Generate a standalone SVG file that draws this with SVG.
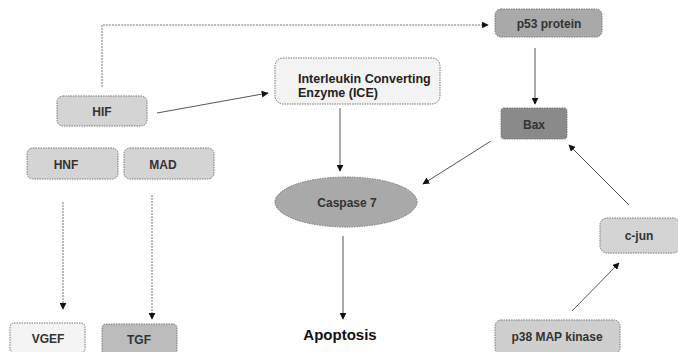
<svg xmlns="http://www.w3.org/2000/svg" width="678" height="352" viewBox="0 0 678 352">
<style>
.n{stroke:#777;stroke-width:1;stroke-dasharray:1.5 1}
.t{font-family:"Liberation Sans",Arial,sans-serif;font-weight:bold;font-size:12px;fill:#333;text-anchor:middle}
.l{text-anchor:start;font-size:12.5px;fill:#222}
.c{stroke:#555;stroke-width:1;fill:none}
.d{stroke:#777;stroke-dasharray:2 1}
</style>
<defs>
<marker id="a" viewBox="0 0 10 10" refX="9" refY="5" markerWidth="7" markerHeight="7" orient="auto" markerUnits="userSpaceOnUse"><path d="M0,0L10,5L0,10z" fill="#111"/></marker>
</defs>
<rect width="678" height="352" fill="#fff"/>
<g id="connectors">
<path class="c d" d="M102,87V25H488" marker-end="url(#a)"/>
<path class="c" d="M157,113L268,93" marker-end="url(#a)"/>
<path class="c" d="M340,108V171" marker-end="url(#a)"/>
<path class="c" d="M535,48V104" marker-end="url(#a)"/>
<path class="c" d="M491,141L423,184" marker-end="url(#a)"/>
<path class="c" d="M629,205L569,145" marker-end="url(#a)"/>
<path class="c" d="M572,311L619,263" marker-end="url(#a)"/>
<path class="c" d="M343,236V319" marker-end="url(#a)"/>
<path class="c d" d="M63,202V309" marker-end="url(#a)"/>
<path class="c d" d="M152,195V319" marker-end="url(#a)"/>
</g>
<g id="HIF"><rect class="n" x="57" y="96" width="90" height="30" rx="6" fill="#d4d4d4"/><text class="t" x="102" y="116">HIF</text></g>
<g id="HNF"><rect class="n" x="27" y="148" width="91" height="31" rx="6" fill="#d4d4d4"/><text class="t" x="66" y="169">HNF</text></g>
<g id="MAD"><rect class="n" x="124" y="148" width="90" height="31" rx="6" fill="#d4d4d4"/><text class="t" x="163" y="169">MAD</text></g>
<g id="ICE"><rect class="n" x="275" y="58" width="165" height="46" rx="8" fill="#f3f3f3"/><text class="t l" x="298" y="83">Interleukin Converting</text><text class="t l" x="298" y="97">Enzyme (ICE)</text></g>
<g id="p53"><rect class="n" x="495" y="9" width="107" height="28" rx="6" fill="#a9a9a9"/><text class="t" x="549" y="28">p53 protein</text></g>
<g id="Bax"><rect class="n" x="501" y="108" width="66" height="31" rx="3" fill="#8a8a8a"/><text class="t" x="534" y="129">Bax</text></g>
<g id="Caspase7"><ellipse class="n" cx="346" cy="202" rx="71" ry="25" fill="#a9a9a9"/><text class="t" x="347" y="207">Caspase 7</text></g>
<g id="Apoptosis"><text x="340" y="340" style="font-family:'Liberation Sans',Arial,sans-serif;font-weight:bold;font-size:15px;fill:#111;text-anchor:middle">Apoptosis</text></g>
<g id="VGEF"><rect class="n" x="10" y="323" width="75" height="30" rx="4" fill="#f3f3f3"/><text class="t" x="48" y="343">VGEF</text></g>
<g id="TGF"><rect class="n" x="102" y="324" width="75" height="30" rx="4" fill="#bcbcbc"/><text class="t" x="139" y="344">TGF</text></g>
<g id="p38"><rect class="n" x="495" y="320" width="125" height="34" rx="6" fill="#cfcfcf"/><text class="t" x="557" y="341">p38 MAP kinase</text></g>
<g id="cjun"><rect class="n" x="600" y="218" width="80" height="35" rx="7" fill="#d4d4d4"/><text class="t" x="639" y="240">c-jun</text></g>
</svg>
